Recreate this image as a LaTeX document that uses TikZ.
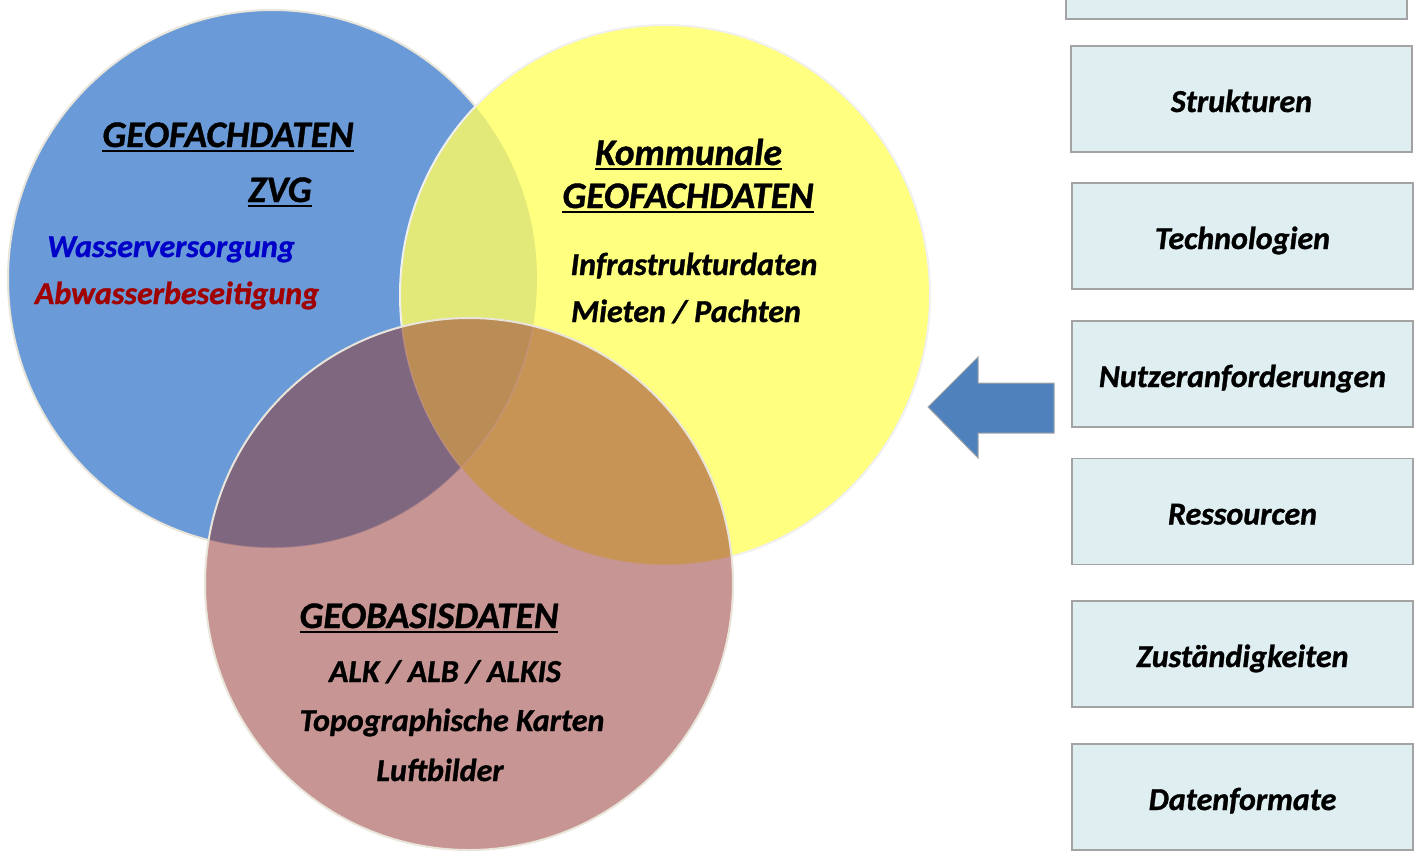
\documentclass[tikz,border=0pt]{standalone}
\usepackage{fontspec}
\setmainfont{Carlito}[BoldItalicFeatures={FakeBold=1}]
\definecolor{blueC}{HTML}{6A9BD8}
\definecolor{yellowC}{HTML}{FFFF80}
\definecolor{byC}{HTML}{E3E978}
\definecolor{pinkC}{HTML}{C79593}
\definecolor{bpC}{HTML}{7F6780}
\definecolor{ypC}{HTML}{C79456}
\definecolor{allC}{HTML}{BA8D57}
\definecolor{edgeC}{HTML}{E9E5DA}
\definecolor{boxC}{HTML}{DFEEF1}
\definecolor{boxLine}{HTML}{A3A3A3}
\definecolor{arrowC}{HTML}{4F81BD}
\definecolor{wvC}{HTML}{0000C8}
\definecolor{abC}{HTML}{A00000}
\newsavebox\ulsave
\newcommand\ulbox[1]{\sbox\ulsave{#1}\rlap{\rule[-5pt]{\wd\ulsave}{2.4pt}}\usebox\ulsave}
\newcommand\fsz[1]{\fontsize{#1}{#1}\selectfont}
\tikzset{
  lbl/.style={anchor=base, inner sep=0pt, font=\bfseries\itshape},
  hdr/.style={lbl, font=\bfseries\itshape\fsz{37.5}},
  itm/.style={lbl, font=\bfseries\itshape\fsz{32}},
  infobox/.style={draw=boxLine, fill=boxC, line width=1.5pt, minimum width=341pt, minimum height=106pt, inner sep=0pt, text height=26pt, text depth=0pt, font=\bfseries\itshape\fsz{32}}
}
\begin{document}
\begin{tikzpicture}[x=1pt,y=-1pt]
\useasboundingbox (0,0) rectangle (1421,855);
\def\blueP{(272.5,279) ellipse [x radius=264.5pt, y radius=269pt]}
\def\yelP{(665,295) ellipse [x radius=265pt, y radius=270pt]}
\def\pinkP{(469,584) ellipse [x radius=264pt, y radius=266pt]}
% blue
\fill[blueC] \blueP;
\draw[edgeC, line width=2pt] \blueP;
% yellow
\fill[yellowC] \yelP;
\begin{scope}
  \clip \blueP;
  \fill[byC] \yelP;
\end{scope}
\draw[white!88!gray, line width=2pt] \yelP;
% pink
\fill[pinkC] \pinkP;
\begin{scope}
  \clip \pinkP;
  \fill[bpC] \blueP;
  \fill[ypC] \yelP;
  \clip \blueP;
  \fill[allC] \yelP;
\end{scope}
\begin{scope}
  \clip \pinkP;
  \draw[pinkC, opacity=0.5, line width=1.5pt] \blueP;
  \draw[pinkC, opacity=0.5, line width=1.5pt] \yelP;
\end{scope}
\draw[edgeC, line width=2pt] \pinkP;
% texts blue circle
\node[hdr] (gf) at (228,147) {\ulbox{GEOFACHDATEN}};
\node[hdr] (zvg) at (280,202) {\ulbox{ZVG}};
\node[itm, text=wvC] (wv) at (171,257) {Wasserversorgung};
\node[itm, text=abC] (ab) at (177,304) {Abwasserbeseitigung};
% texts yellow circle
\node[hdr] (kom) at (688.5,165) {\ulbox{Kommunale}};
\node[hdr] (kgf) at (688,208) {\ulbox{GEOFACHDATEN}};
\node[itm] (inf) at (694,275) {Infrastrukturdaten};
\node[itm] (mp) at (686,322) {Mieten / Pachten};
% texts pink circle
\node[hdr] (gb) at (429,628) {\ulbox{GEOBASISDATEN}};
\node[itm] (alk) at (445,682) {ALK / ALB / ALKIS};
\node[itm] (topo) at (452,731) {Topographische Karten};
\node[itm] (luft) at (440,781) {Luftbilder};
% arrow
\fill[arrowC, draw=gray!70, line width=1pt] (928,407) -- (978,357) -- (978,383) -- (1054,383) -- (1054,433) -- (978,433) -- (978,458) -- cycle;
% boxes
\node[infobox] (b0) at (1236.5,-34) {};
\node[infobox] (b1) at (1241.5,99) {Strukturen};
\node[infobox] (b2) at (1242.5,236) {Technologien};
\node[infobox] (b3) at (1242.5,374) {Nutzeranforderungen};
\node[infobox] (b4) at (1242.5,511.5) {Ressourcen};
\node[infobox] (b5) at (1242.5,654) {Zuständigkeiten};
\node[infobox] (b6) at (1242.5,797) {Datenformate};
\end{tikzpicture}
\end{document}
